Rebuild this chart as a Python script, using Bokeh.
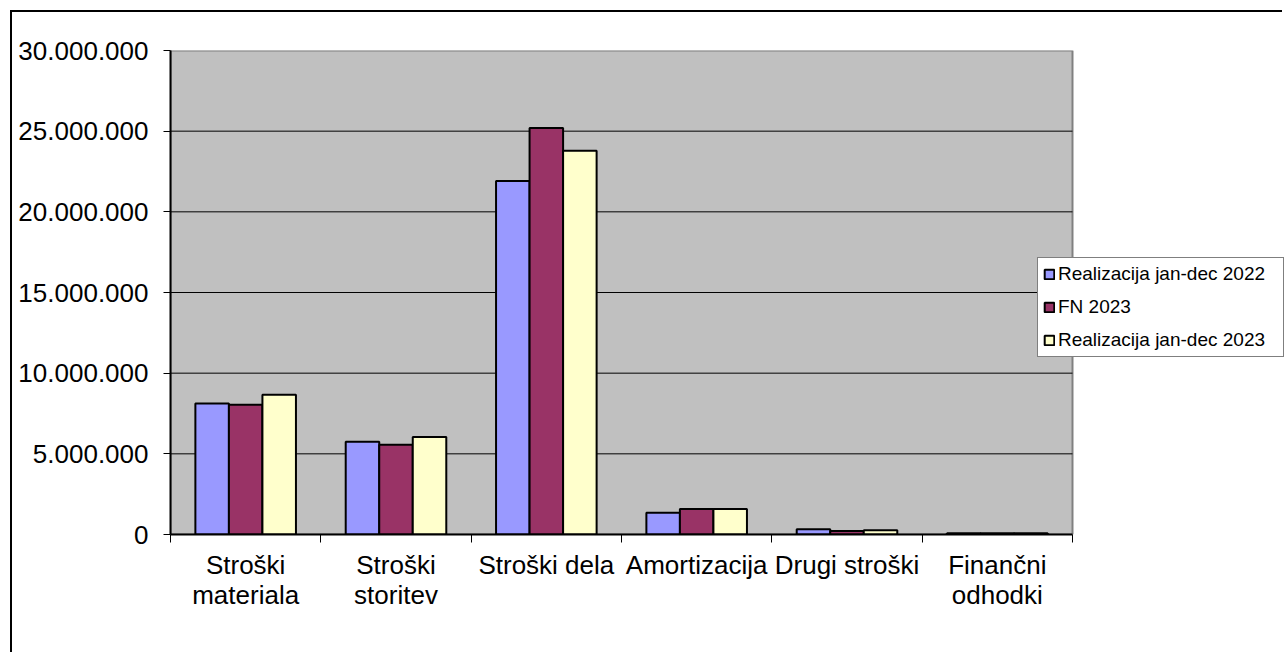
import numpy as np
from bokeh.plotting import figure
from bokeh.models import ColumnDataSource, FixedTicker, Legend, LegendItem, Range1d
from bokeh.transform import dodge
from bokeh.embed import file_html
from bokeh.resources import INLINE

categories = ["Stroški\nmateriala", "Stroški\nstoritev", "Stroški dela",
              "Amortizacija", "Drugi stroški", "Finančni\nodhodki"]
series_names = ["Realizacija jan-dec 2022", "FN 2023", "Realizacija jan-dec 2023"]
real_2022 = [8120000, 5750000, 21910000, 1350000, 320000, 80000]
fn_2023 = [8040000, 5560000, 25200000, 1580000, 220000, 70000]
real_2023 = [8660000, 6040000, 23780000, 1580000, 260000, 80000]
colors = ["#9999FF", "#993366", "#FFFFCC"]
y_ticks = [0, 5000000, 10000000, 15000000, 20000000, 25000000, 30000000]
y_tick_labels = ["0", "5.000.000", "10.000.000", "15.000.000", "20.000.000",
                 "25.000.000", "30.000.000"]

n = len(categories)
xs = list(range(n))
source = ColumnDataSource(dict(x=xs, s0=real_2022, s1=fn_2023, s2=real_2023))

FONT = "Liberation Sans"

CAT_PX = 150.333          # pixels per category
FRAME_W = 1114            # frame extends to the right edge so the legend is not clipped
x_start = -0.5
x_end = x_start + FRAME_W / CAT_PX
y_max = y_ticks[-1]

p = figure(width=158 + FRAME_W, height=642, output_backend="svg", toolbar_location=None,
           x_range=Range1d(x_start, x_end), y_range=Range1d(0, y_max),
           min_border_left=158, min_border_top=38, min_border_right=0,
           min_border_bottom=120)
p.styles = {"border-left": "2px solid black", "border-top": "2px solid black",
            "margin-left": "10px", "margin-top": "10px"}

p.background_fill_color = "white"
p.border_fill_color = "white"
p.outline_line_color = None

# gray plot area
p.quad(left=[xs[0] - 0.5], right=[xs[-1] + 0.5], bottom=[y_ticks[0]], top=[y_max],
       fill_color="#C0C0C0", line_color="#808080", line_width=2)
# gridlines
grid_vals = y_ticks[1:-1]
p.segment(x0=[xs[0] - 0.5] * len(grid_vals), x1=[xs[-1] + 0.5] * len(grid_vals),
          y0=grid_vals, y1=grid_vals, line_color="black", line_width=1)

bw = 0.223
renderers = []
for i, (col, c) in enumerate(zip(["s0", "s1", "s2"], colors)):
    r = p.vbar(x=dodge("x", (i - 1) * bw, range=p.x_range), top=col, width=bw,
               bottom=0, source=source, fill_color=c, line_color="black",
               line_width=2)
    renderers.append(r)

# Axes
p.xaxis.bounds = (xs[0] - 0.5, xs[-1] + 0.5)
p.xaxis.ticker = FixedTicker(ticks=xs, minor_ticks=[x - 0.5 for x in xs] + [xs[-1] + 0.5])
p.xaxis.major_label_overrides = {x: lab for x, lab in zip(xs, categories)}
p.xaxis.major_tick_out = 0
p.xaxis.major_tick_in = 0
p.xaxis.minor_tick_out = 8
p.xaxis.minor_tick_in = 0
p.xaxis.minor_tick_line_color = "black"
p.xaxis.minor_tick_line_width = 1
p.xaxis.axis_line_color = "black"
p.xaxis.axis_line_width = 2
p.xaxis.major_label_text_font = FONT
p.xaxis.major_label_text_font_size = "26px"
p.xaxis.major_label_text_color = "black"
p.xaxis.major_label_text_line_height = 1.03
p.xaxis.major_label_standoff = 7

p.yaxis.ticker = FixedTicker(ticks=y_ticks)
p.yaxis.major_label_overrides = {t: lab for t, lab in zip(y_ticks, y_tick_labels)}
p.yaxis.major_tick_out = 7
p.yaxis.major_tick_in = 0
p.yaxis.major_tick_line_color = "black"
p.yaxis.major_tick_line_width = 1
p.yaxis.minor_tick_line_color = None
p.yaxis.axis_line_color = "black"
p.yaxis.axis_line_width = 2
p.yaxis.major_label_text_font = FONT
p.yaxis.major_label_text_font_size = "26px"
p.yaxis.major_label_text_color = "black"
p.yaxis.major_label_standoff = 15

p.xgrid.grid_line_color = None
p.ygrid.grid_line_color = None

legend = Legend(items=[LegendItem(label=nm, renderers=[r]) for nm, r in zip(series_names, renderers)],
                location=(867, 177))
legend.label_text_font = FONT
legend.label_text_font_size = "19px"
legend.label_text_color = "black"
legend.glyph_width = 12
legend.glyph_height = 12
legend.label_standoff = 3
legend.label_width = 220
legend.label_height = 20
legend.spacing = 11
legend.padding = 5
legend.margin = 0
legend.border_line_color = "black"
legend.border_line_width = 1
legend.background_fill_color = "white"
legend.background_fill_alpha = 1
p.add_layout(legend, "center")

open("out.html", "w").write(file_html(p, INLINE))
